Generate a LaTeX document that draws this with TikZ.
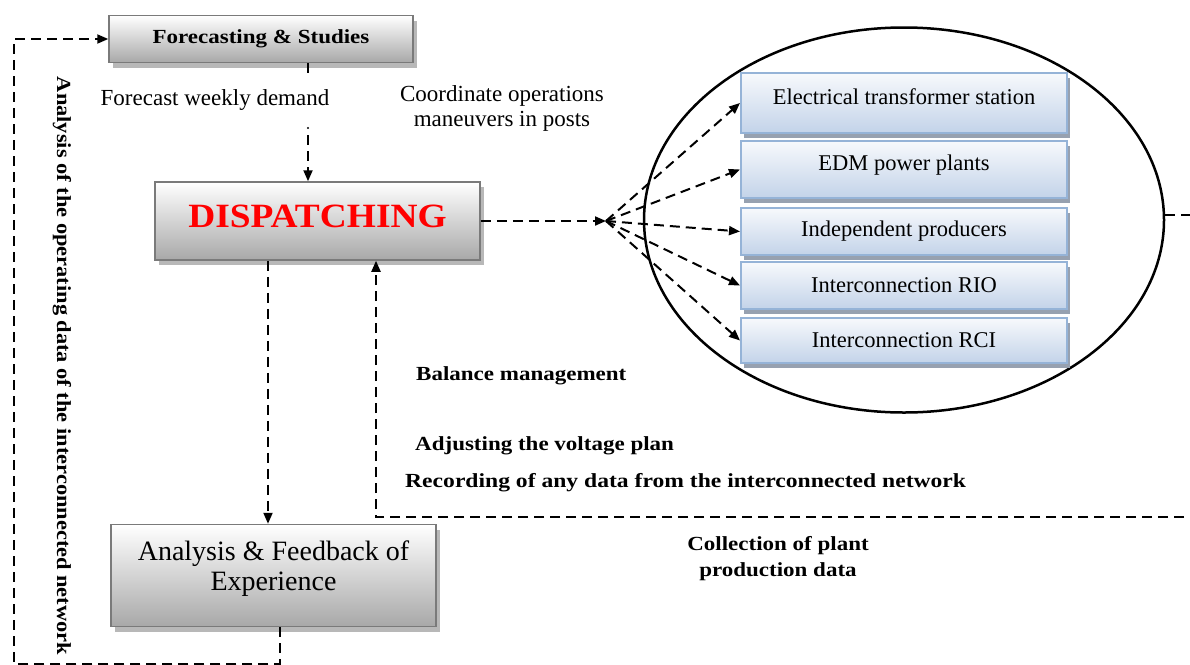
\documentclass[tikz,border=0pt]{standalone}
\usepackage{fontspec}
\setmainfont{Liberation Serif}
\usetikzlibrary{arrows.meta,shapes.geometric,shadows,calc}
\definecolor{gborder}{HTML}{7A7A7A}
\definecolor{gbot}{HTML}{A8A8A8}
\definecolor{gshadow}{HTML}{B8B8B8}
\definecolor{bborder}{HTML}{95B3D7}
\definecolor{btop}{HTML}{F7F9FC}
\definecolor{bbot}{HTML}{C3D3E9}
\definecolor{bshadow}{HTML}{97A1B0}
\newcommand{\bx}[1]{\scalebox{1.15}[1]{\bfseries #1}}
\newcommand{\up}[2]{\raisebox{#1}[\height][\depth]{#2}}
\begin{document}
\begin{tikzpicture}[x=1pt,y=-1pt,
  graybox/.style={draw=gborder, line width=1.5pt, top color=white, bottom color=gbot,
    drop shadow={shadow xshift=4pt, shadow yshift=-5pt, fill=gshadow, opacity=1},
    inner sep=0pt, align=center},
  bluebox/.style={draw=bborder, line width=2pt, top color=btop, bottom color=bbot,
    drop shadow={shadow xshift=3pt, shadow yshift=-5pt, fill=bshadow, opacity=1},
    minimum width=326pt, inner sep=0pt, font=\fontsize{22.5}{24}\selectfont},
  dline/.style={line width=2pt, dash pattern=on 10pt off 6pt},
  arr/.style={dline, -{Triangle[length=11pt,width=9pt]}},
  lbl/.style={inner sep=0pt, font=\fontsize{23}{25}\selectfont},
  blbl/.style={inner sep=0pt, font=\fontsize{20}{26}\selectfont}]
\useasboundingbox (0,0) rectangle (1190,664);
\clip (0,0) rectangle (1190,664);

% ellipse and right boxes
\node[ellipse, draw, line width=2.5pt, minimum width=520pt, minimum height=385pt, inner sep=0pt] (E) at (904,220) {};
\node[bluebox, minimum height=60pt] (b1) at (904,103) {\up{6pt}{Electrical transformer station}};
\node[bluebox, minimum height=57pt] (b2) at (904,169.5) {\up{4pt}{EDM power plants}};
\node[bluebox, minimum height=47pt] (b3) at (904,231.5) {Independent producers};
\node[bluebox, minimum height=47pt] (b4) at (904,285.5) {Interconnection RIO};
\node[bluebox, minimum height=45pt] (b5) at (904,340.5) {Interconnection RCI};

% gray boxes
\node[graybox, minimum width=304pt, minimum height=47pt, font=\fontsize{20}{22}\selectfont] (F) at (261,39) {\bx{Forecasting \& Studies}};
\node[graybox, minimum width=325pt, minimum height=78pt] (D) at (317.5,221) {\up{5pt}{\fontsize{34}{36}\selectfont\color{red}\scalebox{1.1}[1]{\bfseries DISPATCHING}}};
\node[graybox, minimum width=325pt, minimum height=102pt, font=\fontsize{28}{30}\selectfont] (A) at (273.5,575.5) {\up{6pt}{\begin{tabular}{@{}c@{}}Analysis \& Feedback of\\Experience\end{tabular}}};

% helper coordinates
\coordinate (J) at (606,221);
\coordinate (fx) at (308,0);
\coordinate (dx) at (268,0);
\coordinate (ux) at (376,0);
\coordinate (ax) at (280,0);
\coordinate (lb) at (14,663.5);
\coordinate (fr) at (1200,517);
\coordinate (er) at (1200,215);

% connectors
\draw[arr] (D.east) -- (J);
\foreach \b in {b1,b2,b3,b4,b5} \draw[arr] (J) -- (\b.west);
\draw[line width=2pt] (F.south -| fx) -- ++(0,10);
\fill (308,128) circle (1.2pt);
\draw[arr] ($(D.north -| fx)+(0,-46)$) -- (D.north -| fx);
\draw[arr] (D.south -| dx) -- (A.north -| dx);
\draw[arr] (fr) -| (D.south -| ux);
\draw[dline] (E.east |- er) -- (er);
\draw[arr] (A.south -| ax) |- (lb) |- (F.west);

% labels
\node[lbl] (t1) at (215,100) {Forecast weekly demand};
\node[lbl, align=center] (t2) at (502,108) {Coordinate operations\\maneuvers in posts};
\node[blbl, anchor=west] (t3) at (416,376) {\bx{Balance management}};
\node[blbl, anchor=west] (t4) at (415,446) {\bx{Adjusting the voltage plan}};
\node[blbl, anchor=west] (t5) at (405,483) {\scalebox{1.18}[1]{\bfseries Recording of any data from the interconnected network}};
\node[blbl, align=center] (t6) at (778,559) {\bx{Collection of plant}\\\bx{production data}};
\node[blbl, rotate=-90] (t7) at (62,366) {\scalebox{1.12}[1]{\bfseries Analysis of the operating data of the interconnected network}};
\end{tikzpicture}
\end{document}
